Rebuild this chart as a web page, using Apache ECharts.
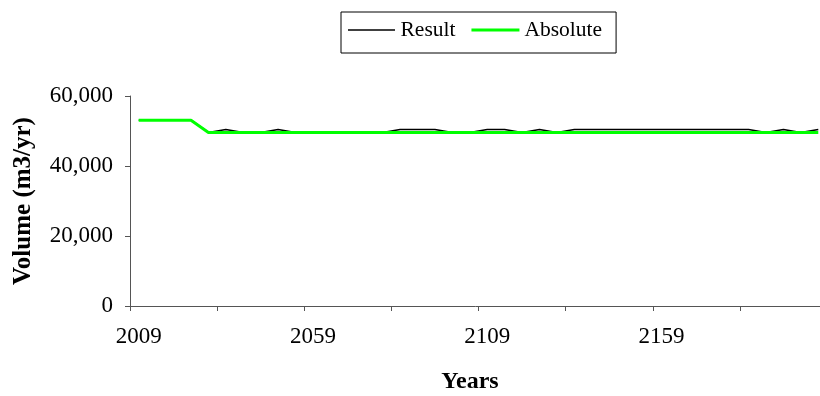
<!DOCTYPE html>
<html>
<head>
<meta charset="utf-8">
<script src="https://cdn.jsdelivr.net/npm/echarts@6/dist/echarts.min.js"></script>
<style>
html,body{margin:0;padding:0;background:#fff;}
#chart{width:820px;height:396px;}
</style>
</head>
<body>
<div id="chart"></div>
<script>
const years = ['2009','2014','2019','2024','2029','2034','2039','2044','2049','2054',
  '2059','2064','2069','2074','2079','2084','2089','2094','2099','2104',
  '2109','2114','2119','2124','2129','2134','2139','2144','2149','2154',
  '2159','2164','2169','2174','2179','2184','2189','2194','2199','2204'];
const resultValues = [53100,53100,53100,53100,49600,50400,49600,49600,50400,49600,
  49600,49600,49600,49600,49600,50400,50400,50400,49600,49600,
  50400,50400,49600,50400,49600,50400,50400,50400,50400,50400,
  50400,50400,50400,50400,50400,50400,49600,50400,49600,50400];
const absoluteValues = [53100,53100,53100,53100,49600,49600,49600,49600,49600,49600,
  49600,49600,49600,49600,49600,49600,49600,49600,49600,49600,
  49600,49600,49600,49600,49600,49600,49600,49600,49600,49600,
  49600,49600,49600,49600,49600,49600,49600,49600,49600,49600];
const yTicks = [0, 20000, 40000, 60000];

const FONT = 'Liberation Serif';
const chart = echarts.init(document.getElementById('chart'), null, {renderer: 'canvas'});
chart.setOption({
  animation: false,
  backgroundColor: '#ffffff',
  textStyle: {fontFamily: FONT, color: '#000'},
  legend: {
    left: 341, top: 12,
    orient: 'horizontal',
    data: [
      {name: 'Result', icon: 'path://M0,0L0,0M47,14L47,14M0,6.25L47,6.25L47,7.75L0,7.75Z'},
      {name: 'Absolute', icon: 'path://M0,0L0,0M50,14L50,14M0,5.5L50,5.5L50,8.5L0,8.5Z'}
    ],
    itemWidth: 48, itemHeight: 14,
    itemGap: 16,
    padding: [7, 14, 12, 7],
    borderColor: '#000', borderWidth: 1,
    itemStyle: {borderWidth: 0},
    textStyle: {fontFamily: FONT, fontSize: 21.5, color: '#000'}
  },
  grid: {left: 130, top: 96, width: 697, height: 210, outerBoundsMode: 'none', containLabel: false},
  xAxis: {
    type: 'category',
    data: years,
    boundaryGap: true,
    name: 'Years',
    nameLocation: 'middle',
    nameGap: 64,
    nameTextStyle: {fontFamily: FONT, fontSize: 24, fontWeight: 'bold', color: '#000', padding: [0, 17, 0, 0]},
    axisLine: {lineStyle: {color: '#555', width: 1}},
    axisTick: {show: true, interval: 4, length: 5, inside: false, lineStyle: {color: '#555'}},
    axisLabel: {interval: 9, margin: 19, fontFamily: FONT, fontSize: 23, color: '#000'},
    splitLine: {show: false}
  },
  yAxis: {
    type: 'value',
    min: yTicks[0], max: yTicks[yTicks.length - 1], interval: 20000,
    name: 'Volume (m3/yr)',
    nameLocation: 'middle',
    nameGap: 94,
    nameTextStyle: {fontFamily: FONT, fontSize: 25, fontWeight: 'bold', color: '#000'},
    axisLine: {show: true, lineStyle: {color: '#555', width: 1}},
    axisTick: {show: true, length: 5, lineStyle: {color: '#555'}},
    axisLabel: {margin: 17, fontFamily: FONT, fontSize: 23, color: '#000',
      formatter: v => v.toLocaleString('en-US')},
    splitLine: {show: false}
  },
  series: [
    {name: 'Result', type: 'line', data: resultValues, symbol: 'none',
      lineStyle: {color: '#000', width: 1.5}, itemStyle: {color: '#000'}, z: 2},
    {name: 'Absolute', type: 'line', data: absoluteValues, symbol: 'none',
      lineStyle: {color: '#00ff00', width: 3}, itemStyle: {color: '#00ff00'}, z: 3}
  ]
});
</script>
</body>
</html>
